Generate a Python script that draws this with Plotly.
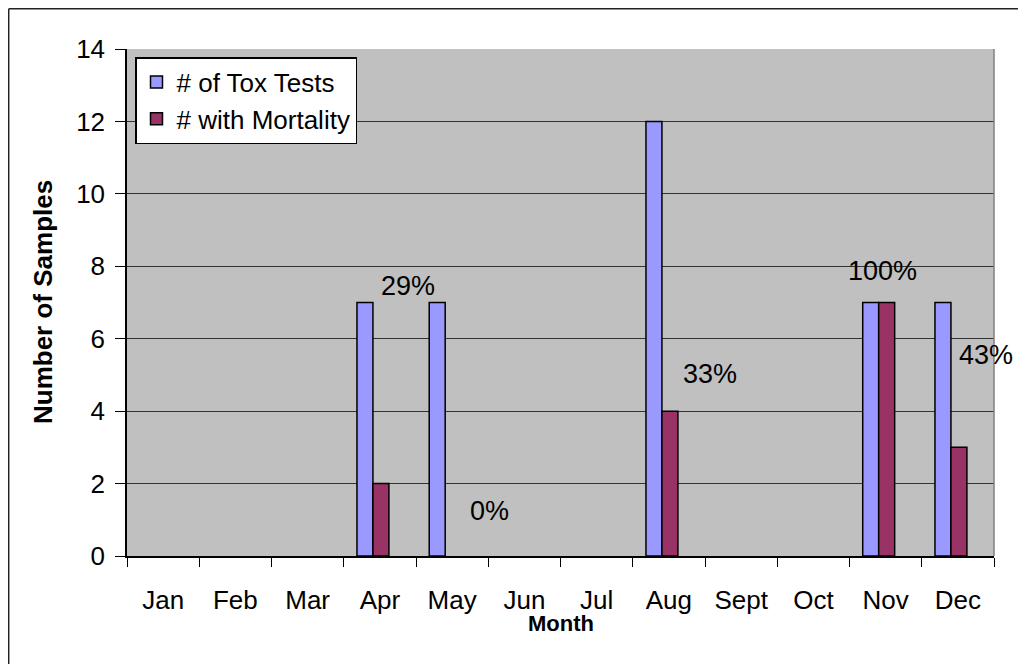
import plotly.graph_objects as go

months = ["Jan", "Feb", "Mar", "Apr", "May", "Jun", "Jul", "Aug", "Sept", "Oct", "Nov", "Dec"]
tox_tests = [0, 0, 0, 7, 7, 0, 0, 12, 0, 0, 7, 7]
with_mortality = [0, 0, 0, 2, 0, 0, 0, 4, 0, 0, 7, 3]
pct_labels = ["29%", "0%", "33%", "100%", "43%"]
pct_x = [3.39, 4.52, 7.57, 9.96, 11.39]
pct_y = [7.46, 1.24, 5.03, 7.87, 5.55]

FONT = "Arial, Liberation Sans, sans-serif"

# page body has an 8px margin: plot area target (127..994, 49..556) in window px
L, T, PW, PH = 119, 41, 867, 507
W, H = 1010, 656


def px_x(p):
    return (p - 8 - L) / PW


def px_y(p):
    return (T + PH - (p - 8)) / PH


def nz(vals):
    # zero-count months show no bar at all
    return [v if v > 0 else None for v in vals]


fig = go.Figure()
fig.add_trace(go.Bar(
    x=months, y=nz(tox_tests), name="# of Tox Tests",
    marker=dict(color="#9999FF", line=dict(color="black", width=1.5)),
    width=0.221, offset=-0.317,
))
fig.add_trace(go.Bar(
    x=months, y=nz(with_mortality), name="# with Mortality",
    marker=dict(color="#993366", line=dict(color="black", width=1.5)),
    width=0.221, offset=-0.096,
))

for t, xx, yy in zip(pct_labels, pct_x, pct_y):
    fig.add_annotation(x=xx, y=yy, xref="x", yref="y", text=t, showarrow=False,
                       xanchor="center", yanchor="middle",
                       font=dict(family=FONT, size=27, color="black"))

fig.add_annotation(text="<b>Month</b>", xref="paper", yref="paper",
                   x=0.5, y=px_y(623), xanchor="center", yanchor="middle", showarrow=False,
                   font=dict(family=FONT, size=22, color="black"))
fig.add_annotation(text="<b>Number of Samples</b>", xref="paper", yref="paper",
                   x=px_x(42.5), y=0.5, xanchor="center", yanchor="middle",
                   textangle=-90, showarrow=False,
                   font=dict(family=FONT, size=26, color="black"))

# outer border (only left and top edges are visible in the window)
fig.add_shape(type="line", xref="paper", yref="paper",
              x0=px_x(8.7), x1=px_x(8.7), y0=-0.5, y1=px_y(8.7),
              line=dict(color="#222222", width=1.5), layer="below")
fig.add_shape(type="line", xref="paper", yref="paper",
              x0=px_x(8.7), x1=1.3, y0=px_y(8.7), y1=px_y(8.7),
              line=dict(color="#222222", width=1.5), layer="below")
# right border of plot area
fig.add_shape(type="line", xref="paper", yref="paper", x0=1, x1=1, y0=0, y1=1,
              line=dict(color="#808080", width=1.5))

fig.update_layout(
    width=W, height=H,
    margin=dict(l=L, r=W - L - PW, t=T, b=H - T - PH),
    paper_bgcolor="white", plot_bgcolor="#C0C0C0",
    font=dict(family=FONT, size=26, color="black"),
    barmode="overlay",
    showlegend=True,
    legend=dict(x=px_x(135), y=px_y(57), xanchor="left", yanchor="top",
                bgcolor="white", bordercolor="black", borderwidth=1.5,
                font=dict(family=FONT, size=26, color="black"),
                itemwidth=30, tracegroupgap=0),
    xaxis=dict(type="category", tickson="boundaries", ticks="outside", ticklen=9,
               tickcolor="black", showline=True, linecolor="black", linewidth=1.5,
               showgrid=False, tickfont=dict(size=26), ticklabelstandoff=20,
               range=[-0.5, 11.5]),
    yaxis=dict(range=[0, 14], dtick=2, ticks="outside", ticklen=10, tickcolor="black",
               showline=True, linecolor="black", linewidth=1.5, showgrid=True,
               gridcolor="#333333", gridwidth=1, zeroline=False,
               tickfont=dict(size=26), ticklabelstandoff=5),
)

fig.write_html("out.html")
